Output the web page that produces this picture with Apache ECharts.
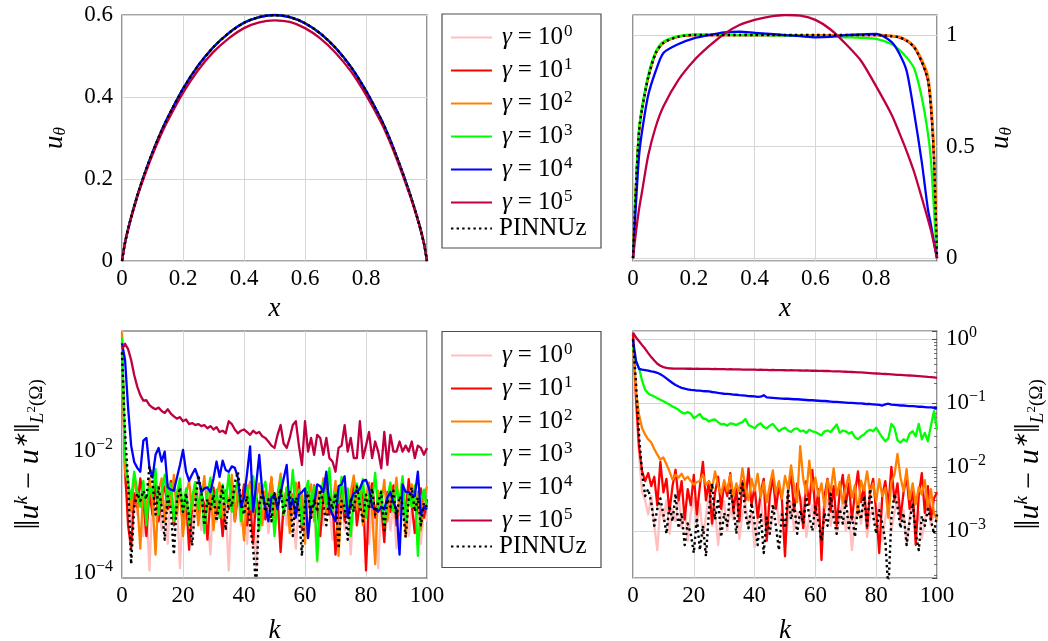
<!DOCTYPE html>
<html><head><meta charset="utf-8">
<script src="https://cdn.jsdelivr.net/npm/echarts@6/dist/echarts.min.js"></script>
<style>html,body{margin:0;padding:0;background:#fff}#c{width:1048px;height:641px}</style>
</head><body><div id="c"></div>
<script>
// ---------------- data ----------------
const seriesNames = ['g0','g1','g2','g3','g4','g5','PINNUz'];
const gammaExponents = ['0','1','2','3','4','5'];
const lineColors = ['#ffbfbf','#ff0000','#ff8000','#00ff00','#0000ff','#bf0040','#000000'];

// top-left: u_theta(x)
const xTL = [0,0.01,0.025,0.05,0.075,0.1,0.125,0.15,0.2,0.25,0.3,0.35,0.4,0.45,0.5,0.55,0.6,0.65,0.7,0.75,0.8,0.85,0.875,0.9,0.925,0.95,0.975,0.99,1];
const uTLexact = [0,0.045,0.093,0.159,0.215,0.265,0.31,0.35,0.42,0.477,0.522,0.556,0.581,0.595,0.6,0.595,0.58,0.555,0.52,0.474,0.415,0.345,0.303,0.256,0.205,0.15,0.088,0.043,0];
const uTLg5 = [0,0.044,0.091,0.156,0.21,0.259,0.303,0.342,0.41,0.466,0.51,0.543,0.568,0.582,0.587,0.583,0.568,0.543,0.508,0.463,0.405,0.337,0.296,0.25,0.2,0.147,0.086,0.042,0];

// top-right: u_theta(x)
const xTR = [0,0.01,0.02,0.03,0.05,0.075,0.1,0.15,0.2,0.25,0.3,0.35,0.4,0.45,0.5,0.55,0.6,0.65,0.7,0.75,0.8,0.85,0.875,0.9,0.925,0.95,0.97,0.98,0.99,1];
const uTRexact = [0,0.33,0.57,0.67,0.81,0.92,0.965,0.993,1,1,1,1,1,1,1,1,1,1,1,1,1,0.995,0.99,0.975,0.945,0.88,0.8,0.68,0.45,0];
const uTRg2 = [0,0.33,0.57,0.67,0.81,0.92,0.965,0.993,1,1,1,1,1,1,1,1,1,1,1,1,1.002,0.997,0.992,0.978,0.95,0.89,0.82,0.71,0.5,0];
const uTRg3 = [0,0.34,0.58,0.68,0.82,0.925,0.97,0.995,1.003,1.003,1.002,1,1,0.999,0.998,0.997,0.995,0.993,0.99,0.988,0.983,0.96,0.935,0.9,0.85,0.72,0.56,0.44,0.22,0];
const uTRg4 = [0,0.25,0.46,0.57,0.73,0.84,0.92,0.96,0.985,1,1.012,1.015,1.01,1.005,1,0.995,0.99,0.992,1,1.003,1.005,0.97,0.92,0.84,0.65,0.43,0.22,0.15,0.07,0];
const uTRg5 = [0,0.12,0.22,0.3,0.46,0.59,0.68,0.8,0.885,0.95,1.005,1.045,1.068,1.083,1.09,1.087,1.068,1.025,0.96,0.885,0.77,0.645,0.565,0.48,0.385,0.27,0.175,0.125,0.065,0];

// iteration index k
const kIter = Array.from({length: 101}, (_, i) => i);

// bottom-left: ||u^k - u*||
const blG0 = [0.5,3e-3,1.5e-3,6e-4,2e-3,9e-4,3e-3,4e-4,1.2e-3,1.1e-4,
1.8e-3,7e-4,2.2e-3,5e-4,1.5e-3,3e-4,2.5e-3,8e-4,1.6e-3,1.2e-4,
1.4e-3,6e-4,2e-3,3.5e-4,1.1e-3,2.4e-3,5e-4,1.3e-3,9e-4,2e-4,
1.7e-3,7e-4,1.9e-3,4e-4,1.2e-3,1.1e-4,1.6e-3,8e-4,2.3e-3,6e-4,
1.4e-3,3e-4,1.8e-3,9e-4,1.3e-4,1.5e-3,7e-4,2.1e-3,4.5e-4,1.2e-3,
8e-4,1.9e-3,3e-4,1.4e-3,6e-4,2.2e-3,1e-3,2.5e-4,1.6e-3,7e-4,
1.3e-3,4e-4,1.8e-3,9e-4,1.5e-4,1.2e-3,6e-4,2e-3,1.1e-3,3.5e-4,
1.5e-3,8e-4,1.9e-3,5e-4,1.3e-3,2e-4,1.7e-3,9e-4,2.3e-3,6e-4,
1.1e-3,3e-4,1.6e-3,7e-4,1.2e-4,1.4e-3,8e-4,2e-3,5e-4,1.3e-3,
2.5e-4,1.5e-3,9e-4,1.9e-3,4e-4,1.2e-3,6e-4,1.7e-3,3e-4,1.1e-3,
7e-4];
const blG1 = [0.6,5e-3,6e-4,2.5e-4,2e-3,1.2e-3,3.5e-3,1.5e-3,4e-4,2.2e-3,
9e-4,3e-3,7e-4,1.8e-3,2.6e-3,1.1e-3,3.2e-3,6e-4,1.4e-3,2.8e-3,
5e-4,1.7e-3,2.4e-4,1.2e-3,3e-3,8e-4,2e-3,1.3e-3,3.5e-4,1.6e-3,
2.5e-3,9e-4,1.5e-3,4e-4,2.2e-3,1.1e-3,3.3e-3,7e-4,1.9e-3,1.2e-3,
2.8e-3,6e-4,1.5e-3,3e-4,1.8e-3,1e-3,2.6e-3,7.5e-4,1.4e-3,3.5e-3,
9e-4,1.7e-3,2.2e-4,1.3e-3,2.4e-3,6e-4,1.9e-3,1.1e-3,3e-3,5e-4,
1.6e-3,2.1e-3,8e-4,2.7e-3,1.2e-3,4e-4,1.8e-3,3.2e-3,9e-4,1.5e-3,
2e-4,1.3e-3,2.5e-3,7e-4,1.9e-3,1.1e-3,3.6e-3,6e-4,1.4e-3,2.3e-3,
1.1e-4,1.6e-3,2.9e-3,8e-4,1.8e-3,1.2e-3,3.2e-4,2.1e-3,1e-3,2.7e-3,
6e-4,1.5e-3,2.2e-3,9e-4,3.4e-3,1.3e-3,4.5e-4,1.7e-3,2.4e-3,8e-4,
1.6e-3];
const blG2 = [0.85,4.5e-3,3e-3,1e-3,4e-3,1.5e-3,2.5e-4,2.6e-3,1e-3,3.5e-3,
1.4e-3,2e-4,2.2e-3,3.5e-3,7e-4,2.8e-3,1.2e-3,4e-3,9e-4,2.4e-3,
4e-4,1.9e-3,3.2e-3,1.1e-3,2.7e-3,6e-4,1.6e-3,3.8e-3,1e-3,2.3e-3,
5e-4,1.8e-3,3e-3,8e-4,2.1e-3,1.3e-3,4e-3,7e-4,2.6e-3,1.5e-3,
3.4e-4,2e-3,3.1e-3,9e-4,1.7e-3,2.9e-3,6e-4,2.2e-3,1.2e-3,3.7e-3,
8e-4,1.9e-3,4.2e-3,1.1e-3,2.5e-3,4.5e-4,1.6e-3,3e-3,1e-3,2e-3,
3e-4,1.8e-3,2.8e-3,7e-4,2.3e-3,1.4e-3,3.5e-3,9e-4,2e-3,1.2e-3,
3.2e-3,1.9e-4,1.7e-3,2.6e-3,8e-4,2.1e-3,3.9e-3,1.1e-3,2.4e-3,6e-4,
1.8e-3,3e-3,1e-3,1.4e-4,2.2e-3,1.3e-3,3.3e-3,7e-4,2e-3,1.5e-3,
3.6e-3,9e-4,2.5e-3,4e-4,1.7e-3,2.8e-3,1.1e-3,2.1e-3,5e-4,1.8e-3,
2.6e-3];
const blG3 = [0.7,8e-3,3e-3,1.6e-3,4.5e-3,2.2e-3,1.2e-3,3.2e-3,6e-4,2.5e-3,
1.8e-3,5e-3,9e-4,2.2e-3,4e-3,1.3e-3,2.9e-3,7e-4,2e-3,3.5e-3,
1e-3,2.4e-3,6e-4,1.7e-3,3e-3,1.1e-3,2.6e-3,4.5e-4,1.9e-3,3.6e-3,
1.2e-3,2.3e-3,8e-4,2.8e-3,1.4e-3,4.2e-3,1e-3,2.1e-3,3.3e-3,7e-4,
1.8e-3,2.7e-3,1.1e-3,3.8e-3,1.5e-3,5e-4,2.2e-3,3.1e-3,1.2e-3,2e-3,
4e-4,1.6e-3,3.4e-3,9e-4,2.5e-3,1.3e-3,4.8e-3,1e-3,2.3e-3,6e-4,
1.9e-3,3.2e-3,1.1e-3,2.6e-3,1.6e-4,1.7e-3,3e-3,1.2e-3,5.2e-3,9e-4,
2.1e-3,1.4e-3,3.7e-3,1e-3,2.4e-3,4e-4,1.8e-3,2.9e-3,1.2e-3,3.4e-3,
8e-4,2e-3,1.3e-3,4.3e-3,1.1e-3,2.2e-3,6e-4,1.6e-3,3e-3,1e-3,
2.5e-3,1.5e-3,3.8e-3,7e-4,2e-3,1.2e-3,2.7e-3,1.9e-4,1.5e-3,2.3e-3,
1.1e-3];
const blG4 = [0.56,0.3,0.05,0.012,6.5e-3,5.2e-3,4.5e-3,0.0145,0.016,5.2e-3,
3.6e-3,8.5e-3,0.011,6.6e-3,9.6e-3,2.5e-3,2.3e-3,2.2e-3,3.6e-3,5.8e-3,
0.0102,4.5e-3,3.2e-3,4.1e-3,5e-3,3.6e-3,2.1e-3,2.4e-3,2.5e-3,2.1e-3,
3.5e-3,6.6e-3,3.7e-3,6.8e-3,4.8e-3,4.5e-3,5.5e-3,5.2e-3,3.6e-3,1.2e-3,
1.7e-3,4.2e-3,0.0117,1e-3,2.8e-3,8.5e-3,2.1e-3,1.2e-3,7e-4,1.7e-3,
1.9e-3,1.1e-3,2e-3,3.5e-3,5.8e-3,1.1e-3,1.6e-3,8e-4,1.9e-3,2.1e-3,
2.4e-3,3.7e-4,1.2e-3,1.3e-3,2.8e-3,2.6e-3,2.1e-3,4.5e-3,1.2e-3,9e-4,
7e-4,2.6e-3,2.8e-3,3.8e-3,8e-4,1.5e-3,2e-3,2.1e-3,2.4e-3,3.2e-3,
3.3e-3,2.4e-3,1.2e-3,1.1e-3,1e-3,1.2e-3,1.1e-3,1.7e-3,2.1e-3,1.4e-3,
1.1e-3,2e-4,2.8e-3,2.1e-3,2.1e-3,1.9e-3,1.8e-3,4.5e-3,9e-4,1.2e-3,
1.1e-3];
const blG5 = [0.45,0.55,0.45,0.3,0.17,0.11,0.08,0.065,0.066,0.055,
0.05,0.047,0.05,0.044,0.041,0.047,0.04,0.036,0.033,0.035,
0.03,0.032,0.027,0.028,0.026,0.027,0.025,0.026,0.023,0.025,
0.022,0.024,0.02,0.021,0.019,0.03,0.027,0.022,0.019,0.021,
0.022,0.02,0.018,0.021,0.019,0.02,0.017,0.016,0.014,0.012,
0.011,0.018,0.026,0.013,0.011,0.016,0.026,0.03,0.012,0.0058,
0.03,0.0096,0.016,0.0085,0.018,0.016,0.0085,0.016,0.0075,0.0066,
0.0045,0.011,0.012,0.026,0.0096,0.016,0.0075,0.0075,0.03,0.0075,
0.012,0.02,0.0075,0.014,0.0096,0.0051,0.02,0.0058,0.018,0.0096,
0.0096,0.014,0.0096,0.012,0.0096,0.014,0.0075,0.012,0.011,0.0085,
0.011];
const blPinn = [0.4,0.02,3e-3,1.4e-4,1.2e-3,2e-3,1.5e-3,2.2e-3,1.6e-3,5.5e-3,
3e-3,9e-4,2.5e-3,1.2e-3,3.5e-4,1.8e-3,1.1e-3,2e-4,1.5e-3,2.5e-3,
1e-3,2e-3,8e-4,2.8e-4,1.3e-3,4e-3,2.2e-3,6e-4,1.6e-3,1.1e-3,
1.9e-3,7e-4,1.4e-3,2.6e-3,5e-4,1.7e-3,1.2e-3,3e-3,4.5e-3,1.5e-3,
9e-4,1.8e-3,6e-4,2.5e-4,6e-5,1.3e-3,2.1e-3,1e-3,1.6e-3,7e-4,
2e-3,1.2e-3,2.4e-3,9e-4,1.5e-3,2.2e-3,4e-4,1.7e-3,1.1e-3,1.9e-4,
1.4e-3,2e-3,8e-4,1.6e-3,1e-3,2.3e-3,1.3e-3,6e-4,1.8e-3,1.1e-3,
2e-3,2.5e-4,1.5e-3,1.2e-3,3.5e-4,1.7e-3,1e-3,2.6e-3,1.3e-3,7e-4,
1.9e-3,1.1e-3,2.4e-3,9e-4,1.4e-3,2.1e-3,5e-4,1.6e-3,1.2e-3,2.2e-3,
8e-4,1.8e-3,1.3e-3,3.8e-4,1.6e-3,2.5e-3,1e-3,1.7e-3,6e-4,1.4e-3,
1.2e-3];

// bottom-right: ||u^k - u*||
const brG0 = [1.1,0.1,0.015,4e-3,3e-3,1.8e-3,3.5e-3,1.2e-3,5e-4,2.5e-3,
1.5e-3,3e-3,9e-4,2.2e-3,1.4e-3,3.8e-3,1.1e-3,2.4e-3,7e-4,1.9e-3,
3.2e-3,1.3e-3,2.6e-3,8e-4,1.7e-3,4e-3,1.2e-3,2.1e-3,6e-4,1.8e-3,
2.9e-3,1e-3,2.3e-3,1.5e-3,3.4e-3,7.5e-4,1.9e-3,2.7e-3,1.1e-3,2e-3,
5.5e-4,1.6e-3,3e-3,1.2e-3,2.4e-3,9e-4,1.8e-3,3.6e-3,1.3e-3,2.2e-3,
6e-4,1.5e-3,2.8e-3,1e-3,2e-3,1.4e-3,3.3e-3,8e-4,1.7e-3,2.5e-3,
1.1e-3,2.1e-3,6.5e-4,1.9e-3,3.1e-3,1.2e-3,2.3e-3,9e-4,1.6e-3,2.9e-3,
1e-3,2e-3,5e-4,1.5e-3,2.6e-3,1.3e-3,3.4e-3,8e-4,1.8e-3,2.2e-3,
1.1e-3,2.7e-3,7e-4,1.6e-3,2.4e-3,1e-3,1.9e-3,3.2e-3,1.2e-3,2.1e-3,
6e-4,1.7e-3,2.8e-3,1.1e-3,2e-3,7.5e-4,1.5e-3,2.6e-3,1.2e-3,1.9e-3,
1.4e-3];
const brG1 = [1.2,0.12,0.02,8.5e-3,6e-3,8e-3,5e-3,7e-3,2.5e-3,1.2e-2,
4e-3,6.5e-3,2e-3,5e-3,9e-3,3e-3,6e-3,1.5e-3,4.5e-3,2.5e-3,
7.5e-3,1.8e-3,5e-3,1.2e-2,3e-3,6e-3,1.3e-3,4e-3,7e-3,2.2e-3,
5.5e-3,3.5e-3,8e-3,2e-3,4.5e-3,1.4e-3,6e-3,3e-3,9.5e-3,2.5e-3,
5e-3,1.6e-3,4e-3,6.5e-3,7e-4,3.5e-3,7e-3,2.2e-3,5e-3,3e-3,
4e-4,4e-3,8e-3,2e-3,5.5e-3,3.2e-3,1.1e-3,6e-3,2.6e-3,9e-3,
1.8e-3,4.5e-3,3.5e-4,3.5e-3,6.5e-3,2e-3,5e-3,1.2e-3,4e-3,7.5e-3,
2.5e-3,5.5e-3,1.5e-3,3.8e-3,8.5e-3,2.8e-3,5e-3,1.1e-3,4.2e-3,6.5e-3,
2e-3,4.5e-4,3.5e-3,6e-3,2.4e-3,1e-2,3e-3,5.5e-3,1.6e-3,4e-3,
7e-3,2.2e-3,4.8e-3,6e-4,3.6e-3,8e-3,1.9e-3,5e-3,1.5e-3,3.2e-3,
4e-3];
const brG2 = [0.8,0.15,0.065,0.04,0.032,0.027,0.024,0.019,0.0155,0.013,
0.014,0.011,0.0085,0.0063,0.0075,0.0068,0.0078,0.0063,0.007,0.006,
0.0053,0.0058,0.006,0.0075,0.0052,0.006,0.0045,0.0085,0.005,0.0038,
0.0062,0.0042,0.0075,0.0035,0.0055,0.004,0.0095,0.0045,0.003,0.0065,
0.0042,0.0078,0.0033,0.0058,0.0028,0.0052,0.0088,0.0038,0.006,0.0032,
0.0072,0.0045,0.0105,0.0048,0.0028,0.021,0.0065,0.0038,0.0125,0.0042,
0.0068,0.0035,0.0055,0.0023,0.0062,0.0041,0.0095,0.0036,0.0058,0.0027,
0.0048,0.0075,0.0033,0.0052,0.0018,0.0061,0.0043,0.0085,0.0038,0.0055,
0.0029,0.0064,0.0035,0.0047,0.0016,0.0058,0.0075,0.016,0.0068,0.0042,
0.0092,0.0031,0.0055,0.0026,0.0048,0.0037,0.0062,0.0022,0.0045,0.0019,
0.0015];
const brG3 = [0.72,0.45,0.35,0.22,0.16,0.14,0.132,0.126,0.118,0.112,
0.106,0.1,0.094,0.088,0.083,0.078,0.071,0.068,0.072,0.068,
0.058,0.062,0.067,0.057,0.056,0.051,0.054,0.055,0.05,0.046,
0.047,0.044,0.048,0.047,0.045,0.048,0.05,0.056,0.045,0.043,
0.04,0.045,0.048,0.042,0.04,0.044,0.047,0.041,0.036,0.039,
0.041,0.037,0.035,0.039,0.04,0.036,0.037,0.034,0.038,0.036,
0.035,0.033,0.031,0.036,0.037,0.035,0.04,0.046,0.034,0.037,
0.036,0.033,0.035,0.029,0.027,0.03,0.032,0.036,0.038,0.036,
0.041,0.034,0.029,0.025,0.028,0.047,0.041,0.026,0.024,0.027,
0.025,0.033,0.036,0.03,0.047,0.027,0.034,0.025,0.044,0.074,
0.038];
const brG4 = [0.96,0.45,0.34,0.33,0.325,0.32,0.312,0.305,0.295,0.28,
0.262,0.242,0.222,0.205,0.19,0.18,0.172,0.167,0.163,0.16,
0.158,0.156,0.155,0.153,0.152,0.151,0.148,0.146,0.143,0.141,
0.139,0.138,0.137,0.135,0.134,0.132,0.131,0.13,0.128,0.127,
0.126,0.124,0.125,0.132,0.122,0.121,0.12,0.119,0.118,0.117,
0.116,0.116,0.115,0.114,0.114,0.113,0.112,0.111,0.11,0.11,
0.109,0.108,0.107,0.107,0.106,0.105,0.104,0.104,0.103,0.102,
0.101,0.1,0.1,0.099,0.098,0.098,0.097,0.096,0.096,0.095,
0.094,0.093,0.091,0.095,0.097,0.094,0.093,0.092,0.091,0.091,
0.09,0.089,0.089,0.088,0.087,0.087,0.086,0.085,0.085,0.084,
0.083];
const brG5 = [1.25,1.05,0.92,0.8,0.7,0.6,0.52,0.46,0.41,0.38,
0.362,0.352,0.347,0.345,0.344,0.344,0.343,0.344,0.342,0.342,
0.341,0.342,0.34,0.341,0.339,0.34,0.338,0.339,0.337,0.336,
0.336,0.335,0.336,0.334,0.333,0.334,0.332,0.331,0.332,0.33,
0.33,0.329,0.33,0.327,0.328,0.326,0.327,0.325,0.326,0.325,
0.324,0.323,0.324,0.322,0.322,0.321,0.32,0.321,0.319,0.318,
0.318,0.317,0.316,0.315,0.315,0.313,0.312,0.311,0.31,0.308,
0.307,0.305,0.304,0.302,0.3,0.299,0.297,0.295,0.293,0.29,
0.288,0.286,0.284,0.283,0.281,0.279,0.277,0.275,0.274,0.272,
0.27,0.268,0.266,0.264,0.262,0.26,0.258,0.255,0.253,0.25,
0.247];
const brPinn = [1.0,0.2,0.03,8e-3,3.5e-3,4.5e-3,2.8e-3,1.2e-3,2.2e-3,3.2e-3,
1.8e-3,9e-4,2.5e-3,1.4e-3,3.8e-3,1.1e-3,1.9e-3,6e-4,1.3e-3,9e-4,
4.5e-4,1.6e-3,5e-4,1.2e-3,4e-4,2.1e-3,5.5e-3,1.5e-3,3.2e-3,8e-4,
1.9e-3,1.2e-3,4.5e-3,2.4e-3,9e-4,3.5e-3,5.5e-3,1.8e-3,1.1e-3,2.7e-3,
1.3e-3,6e-4,1.9e-3,4.5e-4,1.6e-3,9e-4,2.6e-3,1.2e-3,5e-4,1.8e-3,
1.1e-3,4.2e-3,1.5e-3,2.8e-3,9e-4,2.1e-3,1.3e-3,3.4e-3,1.7e-3,1e-3,
2.5e-3,1.4e-3,7e-4,1.9e-3,1.2e-3,3.8e-3,1.6e-3,9e-4,2.2e-3,1.3e-3,
2.9e-3,1.1e-3,1.8e-3,8e-4,2.4e-3,1.5e-3,3.5e-3,1.2e-3,4.5e-3,1.7e-3,
9e-4,2.1e-3,1.3e-3,7e-4,1.2e-4,1.6e-3,3.8e-3,2.4e-3,1.1e-3,1.9e-3,
6e-4,1.4e-3,2.7e-3,9e-4,5e-4,1.7e-3,1.2e-3,2.2e-3,1.5e-3,9e-4,
1.8e-3];

// ---------------- chart ----------------
const FONT = 'Liberation Serif';
const GRID_LINE = '#d6d6d6';
const FRAME = '#4d4d4d';

function mkSeries(i, ax, xs, ys, smooth) {
  return {
    type: 'line', name: seriesNames[i], xAxisIndex: ax, yAxisIndex: ax,
    data: xs.map((x, j) => [x, ys[j]]),
    symbol: 'none', showSymbol: false, smooth: smooth ? 0.25 : false,
    lineStyle: { color: lineColors[i], width: i === 6 ? 2.4 : 2.3,
                 type: i === 6 ? [2.4, 3.2] : 'solid', cap: 'butt', join: 'round' },
    itemStyle: { color: lineColors[i] },
    emphasis: { disabled: true }, silent: true, animation: false
  };
}

const series = [];
const topLeftSets = [uTLexact, uTLexact, uTLexact, uTLexact, uTLexact, uTLg5, uTLexact];
const topRightSets = [uTRexact, uTRexact, uTRg2, uTRg3, uTRg4, uTRg5, uTRexact];
const botLeftSets = [blG0, blG1, blG2, blG3, blG4, blG5, blPinn];
const botRightSets = [brG0, brG1, brG2, brG3, brG4, brG5, brPinn];
for (let i = 0; i < 7; i++) series.push(mkSeries(i, 0, xTL, topLeftSets[i], true));
for (let i = 0; i < 7; i++) series.push(mkSeries(i, 1, xTR, topRightSets[i], true));
for (let i = 0; i < 7; i++) series.push(mkSeries(i, 2, kIter, botLeftSets[i], false));
for (let i = 0; i < 7; i++) series.push(mkSeries(i, 3, kIter, botRightSets[i], false));
// horizontal grid lines of the bottom-left log axis (10^-2 and 10^-4)
series[14].markLine = {
  silent: true, symbol: 'none', z: 1, animation: false, label: { show: false },
  lineStyle: { color: GRID_LINE, width: 1, type: 'solid' },
  data: [{ yAxis: 1e-2 }, { yAxis: 1e-4 }]
};

const tickFont = { fontFamily: FONT, fontSize: 23, color: '#000' };
const supRich = {
  b: { fontFamily: FONT, fontSize: 23, color: '#000', lineHeight: 26 },
  s: { fontFamily: FONT, fontSize: 16, color: '#000', lineHeight: 16, padding: [0, 0, 12, 0] }
};
function decLabel(v) { const r = Math.round(v * 10) / 10; return r === 0 ? '0' : r.toFixed(1); }
function logLabel(step) {
  return function (v) {
    const e = Math.log10(v), r = Math.round(e);
    if (Math.abs(e - r) > 1e-6 || r % step !== 0) return '';
    return '{b|10}{s|' + (r < 0 ? '\u2212' + (-r) : String(r)) + '}';
  };
}
const uName = '{i|u}{b|\u03b8}';
const uRich = {
  i: { fontFamily: FONT, fontStyle: 'italic', fontSize: 27, color: '#000', lineHeight: 28 },
  b: { fontFamily: FONT, fontStyle: 'italic', fontSize: 17, color: '#000', lineHeight: 17, padding: [11, 0, 0, 0] }
};
const errName = '{d|\u2016}{i|u}{p|k}{r| \u2212 }{i|u}{p|\u2217}{d|\u2016}{bi|L}{bp|2}{br|(\u03a9)}';
const errRich = {
  d: { fontFamily: FONT, fontSize: 36, color: '#000', lineHeight: 36 },
  i: { fontFamily: FONT, fontStyle: 'italic', fontSize: 30, color: '#000', lineHeight: 32 },
  p: { fontFamily: FONT, fontStyle: 'italic', fontSize: 19, color: '#000', lineHeight: 19, padding: [0, 0, 17, 0] },
  r: { fontFamily: FONT, fontSize: 30, color: '#000', lineHeight: 32 },
  bi: { fontFamily: FONT, fontStyle: 'italic', fontSize: 19, color: '#000', lineHeight: 19, padding: [15, 0, 0, 0] },
  bp: { fontFamily: FONT, fontSize: 13, color: '#000', lineHeight: 13, padding: [3, 0, 0, 0] },
  br: { fontFamily: FONT, fontSize: 19, color: '#000', lineHeight: 19, padding: [15, 0, 0, 0] }
};
const italicName = () => ({ rich: { i: { fontFamily: FONT, fontStyle: 'italic', fontSize: 27, color: '#000' } } });

function xAxisDef(grid, isK) {
  return {
    type: 'value', gridIndex: grid, min: 0, max: isK ? 100 : 1, interval: isK ? 20 : 0.2,
    axisLine: { show: false, onZero: false }, axisTick: { show: false },
    splitLine: { show: true, lineStyle: { color: GRID_LINE, width: 1 } },
    axisLabel: Object.assign({}, tickFont, { margin: 6,
      formatter: isK ? (v) => String(Math.round(v)) : (v) => (v > 0.999 ? '' : decLabel(v)) }),
    name: isK ? '{i|k}' : '{i|x}', nameLocation: 'middle', nameGap: isK ? 39 : 34,
    nameTextStyle: italicName()
  };
}

const option = {
  backgroundColor: '#fff',
  animation: false,
  textStyle: { fontFamily: FONT },
  grid: [
    { left: 122, top: 15, width: 305, height: 246 },
    { left: 633, top: 15, width: 304, height: 246 },
    { left: 122, top: 331, width: 305, height: 247 },
    { left: 633, top: 331, width: 304, height: 247 }
  ].map(g => Object.assign(g, { show: true, borderColor: FRAME, borderWidth: 1.2, backgroundColor: 'transparent', containLabel: false, outerBoundsMode: 'none' })),
  xAxis: [xAxisDef(0, false), xAxisDef(1, false), xAxisDef(2, true), xAxisDef(3, true)],
  yAxis: [
    { type: 'value', gridIndex: 0, min: 0, max: 0.6, interval: 0.2,
      axisLine: { show: false, onZero: false }, axisTick: { show: false },
      splitLine: { show: true, lineStyle: { color: GRID_LINE, width: 1 } },
      axisLabel: Object.assign({}, tickFont, { margin: 9, formatter: decLabel }),
      name: uName, nameLocation: 'middle', nameRotate: 90, nameGap: 53, nameTextStyle: { rich: uRich } },
    { type: 'value', gridIndex: 1, position: 'right', min: -0.013, max: 1.09, splitNumber: 2,
      axisLine: { show: false, onZero: false }, axisTick: { show: false },
      splitLine: { show: true, lineStyle: { color: GRID_LINE, width: 1 } },
      axisLabel: Object.assign({}, tickFont, { margin: 9, formatter: (v) =>
        Math.abs(v) < 1e-9 ? '0' : Math.abs(v - 0.5) < 1e-9 ? '0.5' : Math.abs(v - 1) < 1e-9 ? '1' : '' }),
      name: uName, nameLocation: 'middle', nameRotate: 90, nameGap: 50, nameTextStyle: { rich: uRich } },
    { type: 'log', logBase: 10, gridIndex: 2, min: 8.3e-5, max: 0.89,
      axisLine: { show: false, onZero: false }, axisTick: { show: false }, splitLine: { show: false },
      axisLabel: { margin: 9, formatter: logLabel(2), rich: supRich },
      name: errName, nameLocation: 'middle', nameRotate: 90, nameGap: 74, nameTextStyle: { rich: errRich } },
    { type: 'log', logBase: 10, gridIndex: 3, position: 'right', min: 1.83e-4, max: 1.33,
      axisLine: { show: false, onZero: false },
      axisTick: { show: true, inside: true, length: 5, lineStyle: { color: FRAME, width: 1 } },
      minorTick: { show: true, splitNumber: 9, length: 3, lineStyle: { color: FRAME, width: 0.8 } },
      splitLine: { show: true, lineStyle: { color: GRID_LINE, width: 1 } },
      axisLabel: { margin: 9, formatter: logLabel(1), rich: supRich },
      name: errName, nameLocation: 'middle', nameRotate: 90, nameGap: 75, nameTextStyle: { rich: errRich } }
  ],
  legend: [],
  graphic: [
    { type: 'rect', silent: true, shape: { x: 442, y: 14, width: 159, height: 234 },
      style: { fill: 'transparent', stroke: FRAME, lineWidth: 1.2 } },
    { type: 'rect', silent: true, shape: { x: 442, y: 331.5, width: 159, height: 236 },
      style: { fill: 'transparent', stroke: FRAME, lineWidth: 1.2 } }
  ],
  series: series
};

const legendRich = {
  g: { fontFamily: FONT, fontStyle: 'italic', fontSize: 25, color: '#000', lineHeight: 26, padding: [0, 0, 0, 5] },
  e: { fontFamily: FONT, fontSize: 25, color: '#000', lineHeight: 26, padding: [0, 6, 0, 6] },
  r: { fontFamily: FONT, fontSize: 25, color: '#000', lineHeight: 26 },
  s: { fontFamily: FONT, fontSize: 17, color: '#000', lineHeight: 15, padding: [0, 0, 12, 1] },
  p: { fontFamily: FONT, fontSize: 25, color: '#000', lineHeight: 26, padding: [0, 0, 0, 2] }
};
function legendFmt(name) {
  const i = seriesNames.indexOf(name);
  if (i === 6) return '{p|PINNUz}';
  return '{g|\u03b3}{e|=}{r|10}{s|' + gammaExponents[i] + '}';
}
function mkLegend(data, top) {
  return {
    orient: 'vertical', left: 450, top: top, padding: 0, itemWidth: 41, itemHeight: 14, itemGap: 4,
    selectedMode: false, data: data, formatter: legendFmt,
    textStyle: { fontFamily: FONT, fontSize: 25, color: '#000', rich: legendRich },
    itemStyle: { color: 'rgba(0,0,0,0)', borderColor: 'rgba(0,0,0,0)', borderWidth: 0, opacity: 0 },
    lineStyle: { inherit: true }
  };
}
const gammaNames = seriesNames.slice(0, 6);
option.legend = [
  mkLegend(gammaNames, 23), mkLegend(['PINNUz'], 216),
  mkLegend(gammaNames, 341), mkLegend(['PINNUz'], 534)
];

const chart = echarts.init(document.getElementById('c'), null, { renderer: 'canvas' });
chart.setOption(option);
</script></body></html>
